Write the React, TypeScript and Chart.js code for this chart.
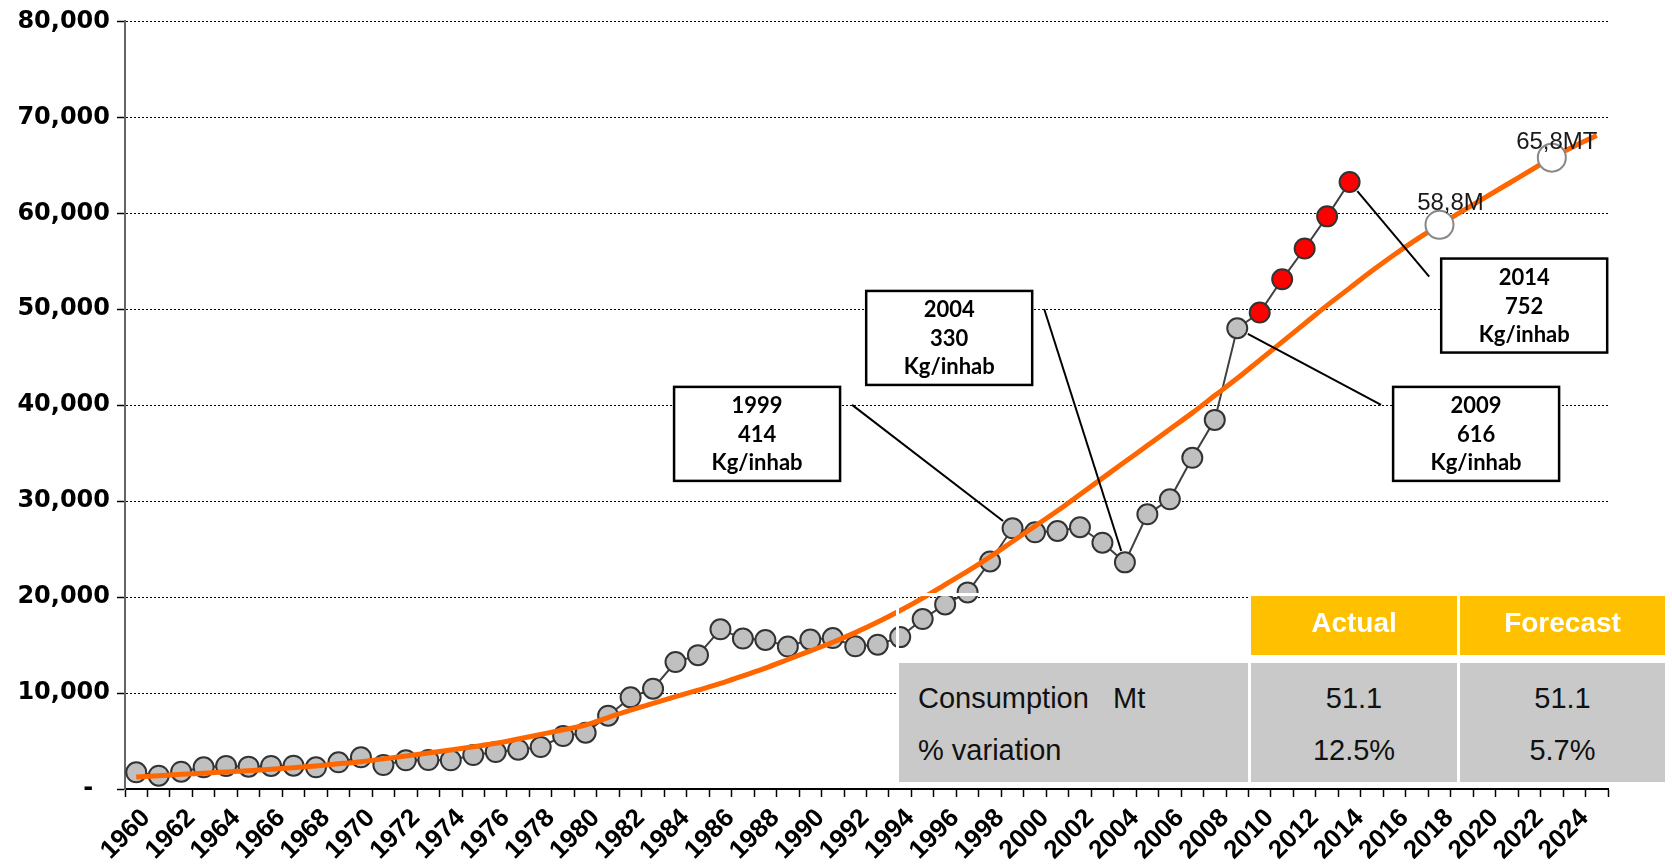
import React, { useEffect, useRef } from 'react';
import { Chart, registerables } from 'chart.js';

Chart.register(...registerables);

// ---------------- DATA ----------------
const years = [
  '1960', '1961', '1962', '1963', '1964', '1965', '1966', '1967', '1968', '1969',
  '1970', '1971', '1972', '1973', '1974', '1975', '1976', '1977', '1978', '1979',
  '1980', '1981', '1982', '1983', '1984', '1985', '1986', '1987', '1988', '1989',
  '1990', '1991', '1992', '1993', '1994', '1995', '1996', '1997', '1998', '1999',
  '2000', '2001', '2002', '2003', '2004', '2005', '2006', '2007', '2008', '2009',
  '2010', '2011', '2012', '2013', '2014', '2015', '2016', '2017', '2018', '2019',
  '2020', '2021', '2022', '2023', '2024', '2025',
];

// Consumption (t), 1960-2014
const consumption = [
  1740, 1390, 1800, 2260, 2400, 2330, 2400, 2430, 2260, 2780,
  3300, 2500, 2990, 3020, 2990, 3540, 3850, 4100, 4375, 5520,
  5870, 7640, 9550, 10450, 13230, 13950, 16640, 15680, 15530, 14850,
  15570, 15730, 14870, 15040, 15830, 17710, 19240, 20490, 23710, 27170,
  26750, 26890, 27280, 25670, 23620, 28630, 30190, 34520, 38470, 48020,
  49660, 53120, 56330, 59680, 63260,
];

// Trend line, 1960-2025
const trend = [
  1250, 1390, 1530, 1650, 1780, 1910, 2050, 2220, 2400, 2620,
  2850, 3140, 3440, 3750, 4060, 4400, 4760, 5210, 5690, 6170,
  6670, 7450, 8230, 8920, 9620, 10300, 11000, 11800, 12600, 13500,
  14400, 15300, 16300, 17400, 18600, 19900, 21300, 22700, 24200, 25800,
  27400, 29000, 30700, 32400, 34100, 35800, 37500, 39200, 41000, 42800,
  44700, 46600, 48500, 50400, 52200, 54000, 55700, 57300, 58800, 60200,
  61600, 63000, 64400, 65800, 67000, 68100,
];

const highlightYears = ['2010', '2011', '2012', '2013', '2014'];

const forecastYears = ['2018', '2023'];
const forecastValues = [58800, 65800];
const forecastLabels = ['58,8M', '65,8MT'];

const yTickValues = [0, 10000, 20000, 30000, 40000, 50000, 60000, 70000, 80000];

const calloutYears = ['1999', '2004', '2014', '2009'];
const calloutPerCapita = ['414', '330', '752', '616'];
const calloutUnit = 'Kg/inhab';

const tableHeaders = ['Actual', 'Forecast'];
const tableRowLabels = ['Consumption   Mt', '% variation'];
const actualColumn = ['51.1', '12.5%'];
const forecastColumn = ['51.1', '5.7%'];

// ---------------- LAYOUT (not data) ----------------
const W = 1672;
const H = 866;
const CALLOUT_BOXES = [
  { xIndex: 27.63, yValue: 37010 },
  { xIndex: 36.18, yValue: 47010 },
  { xIndex: 61.77, yValue: 50385 },
  { xIndex: 59.63, yValue: 37010 },
];
const BOX_W = 166;
const BOX_H = 94;
const FORECAST_LABEL_OFFSETS = [
  { dx: 11, dy: -15 },
  { dx: 5, dy: -9 },
];

const ARIAL = '"Liberation Sans", Arial, sans-serif';
const VERDANA = '"DejaVu Sans", Verdana, sans-serif';

// Rotated year labels under the category axis (every other year)
const xLabelPlugin = {
  id: 'xLabelPlugin',
  afterDraw(chart: any) {
    const { ctx } = chart;
    const x = chart.scales.x;
    ctx.save();
    ctx.font = `bold 26px ${ARIAL}`;
    ctx.fillStyle = '#000';
    ctx.textAlign = 'right';
    ctx.textBaseline = 'middle';
    years.forEach((yr, i) => {
      if (i % 2 !== 0) return;
      const px = x.getPixelForValue(i);
      ctx.save();
      ctx.translate(px + 10, x.top + 25);
      ctx.rotate(-Math.PI / 4);
      ctx.fillText(yr, 0, 0);
      ctx.restore();
    });
    ctx.restore();
  },
};

const calloutPlugin = {
  id: 'calloutPlugin',
  afterDatasetsDraw(chart: any) {
    const { ctx } = chart;
    const x = chart.scales.x;
    const y = chart.scales.y;
    ctx.save();

    // labels of forecast points
    ctx.font = `24px ${ARIAL}`;
    ctx.fillStyle = '#1a1a1a';
    ctx.textAlign = 'center';
    ctx.textBaseline = 'alphabetic';
    forecastYears.forEach((yr, i) => {
      const px = x.getPixelForValue(years.indexOf(yr));
      const py = y.getPixelForValue(forecastValues[i]);
      const off = FORECAST_LABEL_OFFSETS[i];
      ctx.fillText(forecastLabels[i], px + off.dx, py + off.dy);
    });

    // callouts
    calloutYears.forEach((yr, i) => {
      const idx = years.indexOf(yr);
      const px = x.getPixelForValue(idx);
      const py = y.getPixelForValue(consumption[idx]);
      const b = CALLOUT_BOXES[i];
      const bcx = x.getPixelForValue(b.xIndex);
      const bcy = y.getPixelForValue(b.yValue);
      const left = bcx - BOX_W / 2;
      const top = bcy - BOX_H / 2;
      const boxLeftOfPoint = bcx < px;
      const ex = boxLeftOfPoint ? left + BOX_W + 12 : left - 12;
      const ey = top + 18;
      const dx = ex - px;
      const dy = ey - py;
      const d = Math.hypot(dx, dy);
      const sx = px + (dx / d) * 12;
      const sy = py + (dy / d) * 12;

      ctx.beginPath();
      ctx.setLineDash([]);
      ctx.strokeStyle = '#000';
      ctx.lineWidth = 2;
      ctx.moveTo(sx, sy);
      ctx.lineTo(ex, ey);
      ctx.stroke();

      ctx.fillStyle = '#fff';
      ctx.fillRect(left, top, BOX_W, BOX_H);
      ctx.lineWidth = 2.5;
      ctx.strokeRect(left, top, BOX_W, BOX_H);

      ctx.fillStyle = '#000';
      ctx.font = 'bold 22px Lato, "Open Sans", sans-serif';
      ctx.textAlign = 'center';
      ctx.textBaseline = 'alphabetic';
      const lines = [yr, calloutPerCapita[i], calloutUnit];
      lines.forEach((t, k) => {
        ctx.fillText(t, bcx, bcy + 8 + (k - 1) * 28.5);
      });
    });

    ctx.restore();
  },
};

function TableOverlay() {
  const colX = [
    [899, 1248],
    [1251, 1457],
    [1460, 1665],
  ];
  const headerY = [596, 655];
  const bodyY = [663, 782];
  const abs = (l: number, t: number, w: number, h: number, extra: any = {}) => ({
    position: 'absolute' as const,
    left: l,
    top: t,
    width: w,
    height: h,
    boxSizing: 'border-box' as const,
    ...extra,
  });
  const cols = [actualColumn, forecastColumn];
  return (
    <>
      <div style={abs(896, 655, 772, 130, { background: '#fff' })} />
      <div style={abs(1248, 593, 420, 62, { background: '#fff' })} />
      <div style={abs(896, 593, 355, 65, { border: '3px solid #fff' })} />
      {tableHeaders.map((h, i) => {
        const [x0, x1] = colX[i + 1];
        return (
          <div
            key={'h' + i}
            style={abs(x0, headerY[0], x1 - x0, headerY[1] - headerY[0], { background: '#FFC000' })}
          >
            <div
              style={{
                position: 'absolute',
                left: 0,
                right: 0,
                top: 13,
                textAlign: 'center',
                font: `bold 28px ${ARIAL}`,
                lineHeight: '28px',
                color: '#fff',
                whiteSpace: 'pre',
              }}
            >
              {h}
            </div>
          </div>
        );
      })}
      <div style={abs(colX[0][0], bodyY[0], colX[0][1] - colX[0][0], bodyY[1] - bodyY[0], { background: '#C9C9C9' })}>
        {tableRowLabels.map((t, r) => (
          <div
            key={'l' + r}
            style={{
              position: 'absolute',
              left: 19,
              top: r === 0 ? 20.8 : 73.2,
              font: `29px ${ARIAL}`,
              lineHeight: '29px',
              color: '#111',
              whiteSpace: 'pre',
            }}
          >
            {t}
          </div>
        ))}
      </div>
      {cols.map((col, c) => {
        const [x0, x1] = colX[c + 1];
        return (
          <div
            key={'c' + c}
            style={abs(x0, bodyY[0], x1 - x0, bodyY[1] - bodyY[0], { background: '#C9C9C9' })}
          >
            {col.map((t, r) => (
              <div
                key={'v' + r}
                style={{
                  position: 'absolute',
                  left: 0,
                  right: 0,
                  top: r === 0 ? 20.8 : 73.2,
                  textAlign: 'center',
                  font: `29px ${ARIAL}`,
                  lineHeight: '29px',
                  color: '#111',
                  whiteSpace: 'pre',
                }}
              >
                {t}
              </div>
            ))}
          </div>
        );
      })}
    </>
  );
}

export default function App() {
  const canvasRef = useRef<HTMLCanvasElement | null>(null);

  useEffect(() => {
    const canvas = canvasRef.current;
    if (!canvas) return;

    const actualData: (number | null)[] = years.map((_, i) => (i < consumption.length ? consumption[i] : null));
    const forecastData: (number | null)[] = years.map((yr) => {
      const k = forecastYears.indexOf(yr);
      return k >= 0 ? forecastValues[k] : null;
    });
    const pointColors = years.map((yr) => (highlightYears.includes(yr) ? '#FF0000' : '#C0C0C0'));

    const chart = new Chart(canvas, {
      type: 'line',
      data: {
        labels: years,
        datasets: [
          {
            label: 'Forecast',
            data: forecastData,
            showLine: false,
            order: 0,
            pointRadius: 14,
            pointBackgroundColor: '#ffffff',
            pointBorderColor: '#888888',
            pointBorderWidth: 2,
          },
          {
            label: 'Trend',
            data: trend,
            order: 1,
            borderColor: '#FF6600',
            borderWidth: 5,
            pointRadius: 0,
            cubicInterpolationMode: 'monotone',
            fill: false,
          },
          {
            label: 'Consumption',
            data: actualData,
            order: 2,
            borderColor: '#404040',
            borderWidth: 2,
            pointRadius: 10,
            pointBackgroundColor: pointColors,
            pointBorderColor: '#333333',
            pointBorderWidth: 2,
            fill: false,
            tension: 0,
          },
        ],
      },
      options: {
        responsive: false,
        animation: false,
        events: [],
        layout: { padding: { top: 21, right: 64, left: 0, bottom: 0 } },
        plugins: {
          legend: { display: false },
          tooltip: { enabled: false },
        },
        scales: {
          x: {
            type: 'category',
            offset: true,
            afterFit: (scale: any) => {
              scale.height = 77;
            },
            grid: {
              display: true,
              offset: true,
              drawOnChartArea: false,
              drawTicks: true,
              tickLength: 8,
              tickColor: '#000',
              tickWidth: 1.5,
            },
            border: { display: true, color: '#000', width: 2 },
            ticks: {
              display: false,
              autoSkip: false,
            },
          },
          y: {
            min: 0,
            max: 80000,
            afterFit: (scale: any) => {
              scale.width = 125;
            },
            afterBuildTicks: (scale: any) => {
              scale.ticks = yTickValues.map((v) => ({ value: v }));
            },
            grid: {
              color: '#000',
              lineWidth: 1,
              drawTicks: true,
              tickLength: 8,
              tickColor: '#000',
              tickWidth: 1.5,
              tickBorderDash: [],
            },
            border: { display: true, color: '#666', width: 2, dash: [2, 2] },
            ticks: {
              padding: 7,
              color: '#000',
              font: { family: VERDANA, size: 24, weight: 'bold' },
              callback: (v: any) => (Number(v) === 0 ? '-  ' : Number(v).toLocaleString('en-US')),
            },
          },
        },
      },
      plugins: [calloutPlugin, xLabelPlugin],
    } as any);

    return () => chart.destroy();
  }, []);

  return (
    <div style={{ position: 'fixed', left: 0, top: 0, width: W, height: H, background: '#fff', overflow: 'hidden' }}>
      <canvas ref={canvasRef} width={W} height={H} style={{ position: 'absolute', left: 0, top: 0, width: W, height: H }} />
      <TableOverlay />
    </div>
  );
}
